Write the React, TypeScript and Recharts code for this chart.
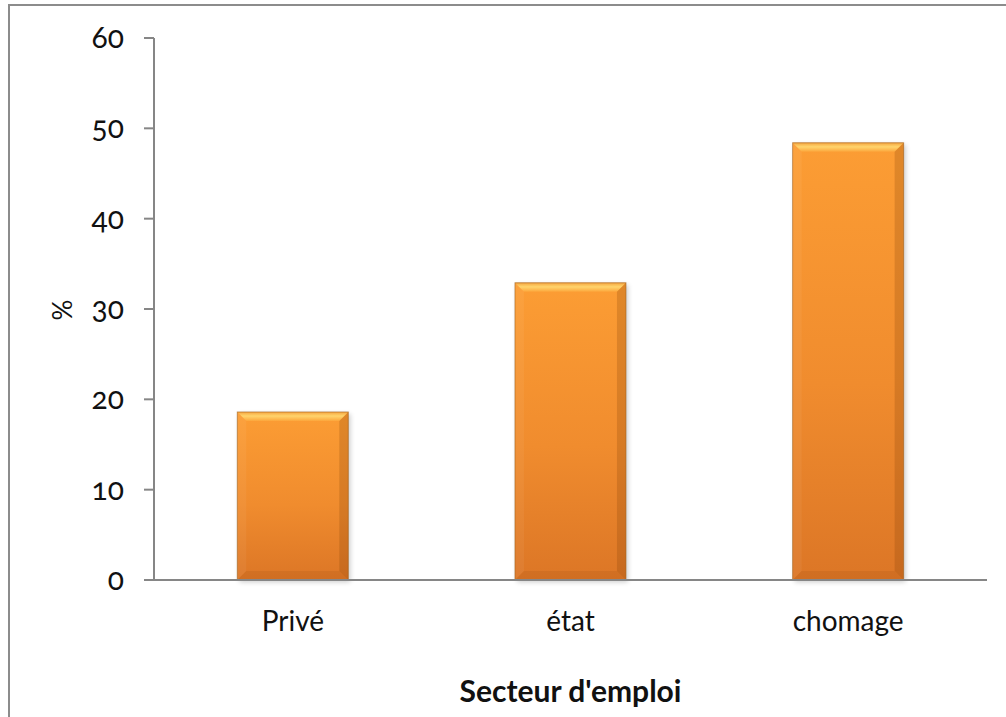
import React from 'react'
import { BarChart, Bar, XAxis, YAxis } from 'recharts'

const categories = ['Privé', 'état', 'chomage']
const percentages = [18.6, 32.9, 48.4]
const yTicks = [0, 10, 20, 30, 40, 50, 60]

const chartData = categories.map((name, i) => ({ name, value: percentages[i] }))

const AXIS = '#868686'
const FONT = 'Lato, "Open Sans", sans-serif'

// orange bar with a bevelled edge and a soft drop shadow
function BevelBar(props: any) {
  const { x, y, width: w, height: h } = props
  if (!w || !h) return null
  const b = Math.min(9, w / 4, h / 4)
  return (
    <g>
      <rect x={x + 2} y={y + 2} width={w} height={h} fill="#000" opacity={0.2} filter="url(#barShadow)" />
      <rect x={x} y={y} width={w} height={h} fill="url(#barFill)" />
      <polygon
        points={`${x},${y} ${x + w},${y} ${x + w - b},${y + b} ${x + b},${y + b}`}
        fill="url(#bevelTop)"
      />
      <polygon
        points={`${x},${y} ${x + b},${y + b} ${x + b},${y + h - b} ${x},${y + h}`}
        fill="#fff"
        opacity={0.05}
      />
      <polygon
        points={`${x + w},${y} ${x + w},${y + h} ${x + w - b},${y + h - b} ${x + w - b},${y + b}`}
        fill="#7a3c05"
        opacity={0.22}
      />
      <polygon
        points={`${x},${y + h} ${x + b},${y + h - b} ${x + w - b},${y + h - b} ${x + w},${y + h}`}
        fill="#7a3c05"
        opacity={0.12}
      />
      <rect x={x} y={y} width={w} height={h} fill="none" stroke="#a0601d" strokeWidth={1} strokeOpacity={0.6} />
    </g>
  )
}

function YTick(props: any) {
  const { x, y, payload } = props
  return (
    <text
      x={x}
      y={y}
      dy={10}
      textAnchor="end"
      fontFamily={FONT}
      fontSize={30}
      fill="#111"
      style={{ fontVariantNumeric: 'oldstyle-nums' }}
    >
      {payload.value}
    </text>
  )
}

function XTick(props: any) {
  const { x, payload } = props
  return (
    <text x={x} y={631} textAnchor="middle" fontFamily={FONT} fontSize={28} fill="#111">
      {payload.value}
    </text>
  )
}

function XTitle(props: any) {
  const { viewBox } = props
  const cx = viewBox.x + viewBox.width / 2
  return (
    <text x={cx} y={702} textAnchor="middle" fontFamily={FONT} fontSize={30} fontWeight="bold" fill="#111">
      Secteur d'emploi
    </text>
  )
}

function YTitle() {
  return (
    <text
      x={62}
      y={310}
      textAnchor="middle"
      dominantBaseline="central"
      transform="rotate(-90 62 310)"
      fontFamily={FONT}
      fontSize={26}
      fill="#111"
    >
      %
    </text>
  )
}

export default function App() {
  return (
    <div style={{ position: 'fixed', left: 0, top: 0, width: 1006, height: 717, overflow: 'hidden', background: '#fff' }}>
      <svg width={0} height={0} style={{ position: 'absolute' }}>
        <defs>
          <linearGradient id="barFill" x1="0" y1="0" x2="0" y2="1">
            <stop offset="0%" stopColor="#fc9d34" />
            <stop offset="55%" stopColor="#f08c2e" />
            <stop offset="100%" stopColor="#dc7626" />
          </linearGradient>
          <linearGradient id="bevelTop" x1="0" y1="0" x2="0" y2="1">
            <stop offset="0%" stopColor="#f5a640" />
            <stop offset="45%" stopColor="#ffd46c" />
            <stop offset="100%" stopColor="#fca63c" />
          </linearGradient>
          <filter id="barShadow" x="-20%" y="-20%" width="140%" height="140%">
            <feGaussianBlur stdDeviation="2.5" />
          </filter>
        </defs>
      </svg>
      <div style={{ position: 'absolute', left: 0, top: 0 }}>
        <BarChart
          width={1006}
          height={717}
          data={chartData}
          margin={{ top: 38, right: 19, left: 0, bottom: 0 }}
          barCategoryGap="30%"
        >
          <XAxis
            dataKey="name"
            height={137}
            axisLine={{ stroke: AXIS, strokeWidth: 2 }}
            tickLine={false}
            tick={<XTick />}
            label={<XTitle />}
          />
          <YAxis
            width={154}
            domain={[0, 60]}
            ticks={yTicks}
            axisLine={{ stroke: AXIS, strokeWidth: 2 }}
            tickLine={{ stroke: AXIS, strokeWidth: 2 }}
            tickSize={10}
            tickMargin={20}
            tick={<YTick />}
            label={<YTitle />}
          />
          <Bar dataKey="value" shape={<BevelBar />} isAnimationActive={false} />
        </BarChart>
      </div>
      {/* chart-area frame: only its left and top edges fall inside the page */}
      <svg width={1006} height={717} style={{ position: 'absolute', left: 0, top: 0, pointerEvents: 'none' }}>
        <path d="M9 760 V5 H1020" fill="none" stroke="#8c8c8c" strokeWidth={2} />
      </svg>
    </div>
  )
}
